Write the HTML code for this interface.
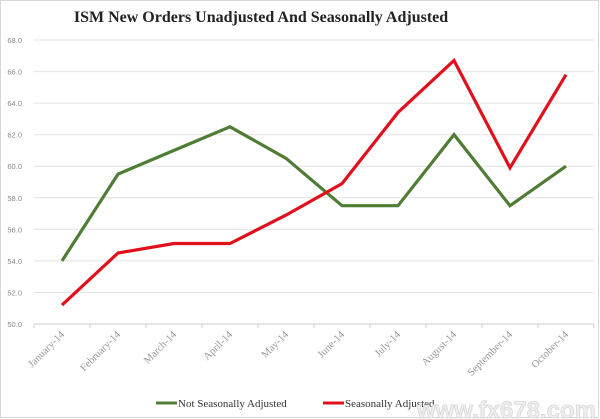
<!DOCTYPE html>
<html><head><style>body{margin:0;background:#fff}svg{display:block}</style></head><body>
<svg width="600" height="419" xmlns="http://www.w3.org/2000/svg" font-family="Liberation Serif, serif">
<rect x="0.5" y="0.5" width="598" height="417" fill="#fff" stroke="#d8d8d8"/>
<text x="261" y="22" text-anchor="middle" font-size="16" font-weight="bold" fill="#222">ISM New Orders Unadjusted And Seasonally Adjusted</text>
<g stroke="#e2e2e2" stroke-width="1">
<line x1="34" x2="594" y1="40" y2="40"/><line x1="34" x2="594" y1="71.6" y2="71.6"/><line x1="34" x2="594" y1="103.1" y2="103.1"/><line x1="34" x2="594" y1="134.7" y2="134.7"/><line x1="34" x2="594" y1="166.2" y2="166.2"/><line x1="34" x2="594" y1="197.8" y2="197.8"/><line x1="34" x2="594" y1="229.3" y2="229.3"/><line x1="34" x2="594" y1="260.9" y2="260.9"/><line x1="34" x2="594" y1="292.4" y2="292.4"/>
</g>
<line x1="34" x2="594" y1="324" y2="324" stroke="#ccc"/>
<g stroke="#ccc"><line x1="34" x2="34" y1="324" y2="328"/><line x1="90" x2="90" y1="324" y2="328"/><line x1="146" x2="146" y1="324" y2="328"/><line x1="202" x2="202" y1="324" y2="328"/><line x1="258" x2="258" y1="324" y2="328"/><line x1="314" x2="314" y1="324" y2="328"/><line x1="370" x2="370" y1="324" y2="328"/><line x1="426" x2="426" y1="324" y2="328"/><line x1="482" x2="482" y1="324" y2="328"/><line x1="538" x2="538" y1="324" y2="328"/><line x1="594" x2="594" y1="324" y2="328"/></g>
<g font-family="Liberation Sans, sans-serif" font-size="7.5" fill="#888" text-anchor="end">
<text x="22" y="43">68.0</text><text x="22" y="74.6">66.0</text><text x="22" y="106.1">64.0</text><text x="22" y="137.7">62.0</text><text x="22" y="169.2">60.0</text><text x="22" y="200.8">58.0</text><text x="22" y="232.3">56.0</text><text x="22" y="263.9">54.0</text><text x="22" y="295.4">52.0</text><text x="22" y="327">50.0</text>
</g>
<g font-size="10.5" fill="#999" text-anchor="end">
<text transform="translate(65,335) rotate(-45)">January-14</text>
<text transform="translate(121,335) rotate(-45)">February-14</text>
<text transform="translate(177,335) rotate(-45)">March-14</text>
<text transform="translate(233,335) rotate(-45)">April-14</text>
<text transform="translate(289,335) rotate(-45)">May-14</text>
<text transform="translate(345,335) rotate(-45)">June-14</text>
<text transform="translate(401,335) rotate(-45)">July-14</text>
<text transform="translate(457,335) rotate(-45)">August-14</text>
<text transform="translate(513,335) rotate(-45)">September-14</text>
<text transform="translate(569,335) rotate(-45)">October-14</text>
</g>
<polyline fill="none" stroke="#4f7d36" stroke-width="3.2" stroke-linejoin="miter" points="62,260.9 118,174.1 174,150.4 230,126.8 286,158.3 342,205.7 398,205.7 454,134.6 510,205.7 566,166.2"/>
<polyline fill="none" stroke="#e0101d" stroke-width="3.2" stroke-linejoin="miter" points="62,305.1 118,253 174,243.5 230,243.5 286,215.1 342,183.6 398,112.5 454,60.5 510,167.8 566,74.7"/>
<line x1="156" x2="177" y1="403" y2="403" stroke="#4f7d36" stroke-width="3"/>
<text x="178" y="407" font-size="11" fill="#333">Not Seasonally Adjusted</text>
<line x1="323" x2="344" y1="403" y2="403" stroke="#e0101d" stroke-width="3"/>
<text x="345" y="407" font-size="11" fill="#333">Seasonally Adjusted</text>
<text x="596" y="418" text-anchor="end" font-family="Liberation Sans, sans-serif" font-size="24" font-weight="bold" fill="#eee" stroke="#d8d8d8" stroke-width="0.8">www.fx678.com</text>
</svg>
</body></html>
